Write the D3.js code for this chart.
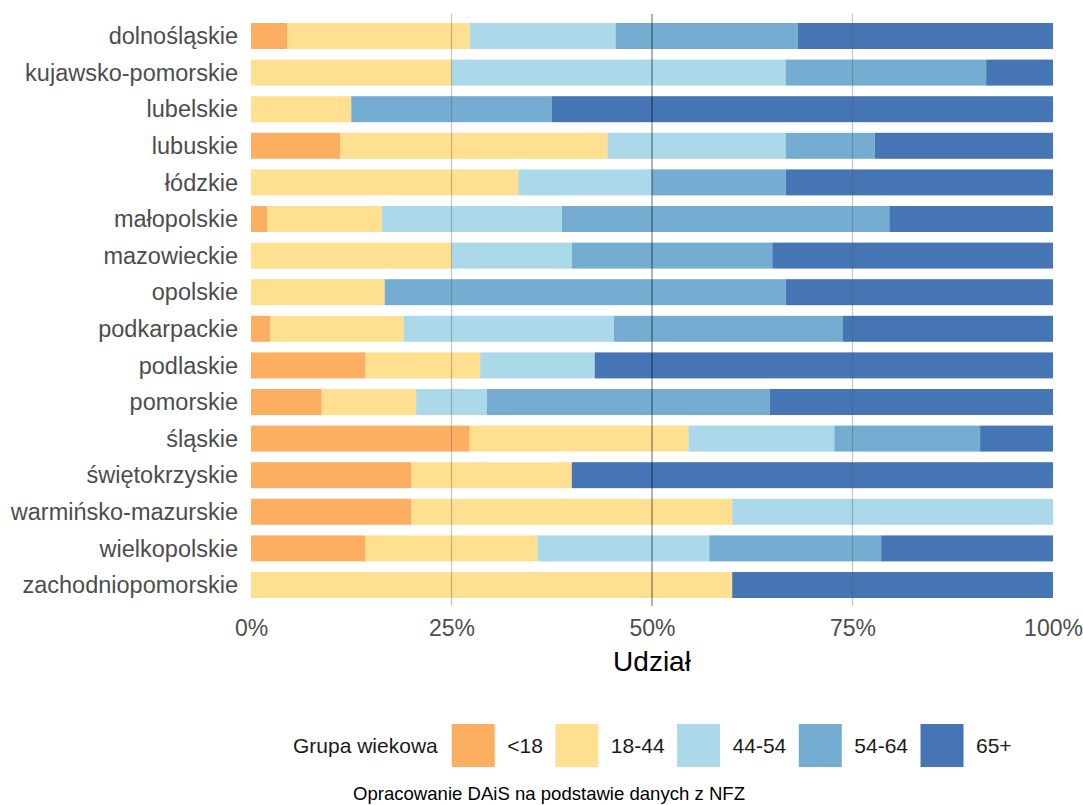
<!DOCTYPE html>
<html>
<head>
<meta charset="utf-8">
<script src="https://cdn.jsdelivr.net/npm/d3@7"></script>
<style>
  body { margin: 0; background: #fff; }
  text { font-family: "Liberation Sans", Arial, sans-serif; }
</style>
</head>
<body>
<svg class="chart"></svg>
<script>
// voivodeships, top to bottom
var regions = ["dolnośląskie", "kujawsko-pomorskie", "lubelskie", "lubuskie", "łódzkie",
  "małopolskie", "mazowieckie", "opolskie", "podkarpackie", "podlaskie", "pomorskie",
  "śląskie", "świętokrzyskie", "warmińsko-mazurskie", "wielkopolskie", "zachodniopomorskie"];

var groups = ["<18", "18-44", "44-54", "54-64", "65+"];
var groupColors = ["#FDAE61", "#FEE090", "#ABD9E9", "#74ADD1", "#4575B4"];

// counts per age group, same order as regions
var under18 = [1, 0, 0, 1, 0, 1, 0, 0, 1, 1, 3, 3, 1, 1, 2, 0];
var age18_44 = [5, 3, 1, 3, 2, 7, 5, 1, 7, 1, 4, 3, 1, 2, 3, 3];
var age44_54 = [4, 5, 0, 2, 1, 11, 3, 0, 11, 1, 3, 2, 0, 2, 3, 0];
var age54_64 = [5, 3, 2, 1, 1, 20, 5, 3, 12, 0, 12, 2, 0, 0, 3, 0];
var age65 = [7, 1, 5, 2, 2, 10, 7, 2, 11, 4, 12, 1, 3, 0, 3, 2];

var xTicks = [0, 0.25, 0.5, 0.75, 1];
var xTitle = "Udział";
var legendTitle = "Grupa wiekowa";
var caption = "Opracowanie DAiS na podstawie danych z NFZ";

var width = 1083;
var height = 805;

var svg = d3.select(".chart")
  .attr("width", width)
  .attr("height", height);

// build rows for the stack
var series = [under18, age18_44, age44_54, age54_64, age65];
var rows = regions.map(function(r, i) {
  var row = { region: r };
  groups.forEach(function(g, j) { row[g] = series[j][i]; });
  return row;
});

var stacked = d3.stack()
  .keys(groups)
  .offset(d3.stackOffsetExpand)(rows);

var x = d3.scaleLinear().domain([0, 1]).range([251, 1053]);

var y = d3.scaleBand()
  .domain(regions)
  .range([17.7, 603.3])
  .paddingInner(0.29)
  .paddingOuter(0.145);

var color = d3.scaleOrdinal().domain(groups).range(groupColors);

// bars
svg.append("g")
  .selectAll("g")
  .data(stacked)
  .enter()
  .append("g")
  .attr("fill", function(d) { return color(d.key); })
  .selectAll("rect")
  .data(function(d) { return d; })
  .enter()
  .append("rect")
  .attr("x", function(d) { return x(d[0]); })
  .attr("width", function(d) { return x(d[1]) - x(d[0]); })
  .attr("y", function(d) { return y(d.data.region); })
  .attr("height", y.bandwidth());

// grid lines drawn over the bars
svg.append("g")
  .selectAll("line")
  .data([0.25, 0.5, 0.75])
  .enter()
  .append("line")
  .attr("x1", function(d) { return x(d); })
  .attr("x2", function(d) { return x(d); })
  .attr("y1", 14)
  .attr("y2", 606)
  .attr("stroke", function(d) { return d === 0.5 ? "#000" : "#555"; })
  .attr("stroke-opacity", function(d) { return d === 0.5 ? 0.5 : 0.35; })
  .attr("stroke-width", 1.2);

// y axis labels
var yAxis = d3.axisLeft(y).tickSize(0).tickPadding(13);
var gy = svg.append("g")
  .attr("transform", "translate(" + x(0) + ",0)")
  .call(yAxis);
gy.select(".domain").remove();
gy.selectAll("text")
  .attr("font-family", "Liberation Sans, Arial, sans-serif")
  .attr("font-size", "23.5px")
  .attr("fill", "#4D4D4D")
  .attr("dy", "0.35em");

// x axis labels
var xAxis = d3.axisBottom(x).tickValues(xTicks).tickFormat(d3.format(".0%")).tickSize(0).tickPadding(0);
var gx = svg.append("g")
  .attr("transform", "translate(0,619)")
  .call(xAxis);
gx.select(".domain").remove();
gx.selectAll("text")
  .attr("font-family", "Liberation Sans, Arial, sans-serif")
  .attr("font-size", "23px")
  .attr("fill", "#4D4D4D")
  .attr("y", 17)
  .attr("dy", 0);

svg.append("text")
  .attr("x", x(0.5))
  .attr("y", 671)
  .attr("text-anchor", "middle")
  .attr("font-size", "28px")
  .attr("fill", "#000")
  .text(xTitle);

// legend
var legend = svg.append("g");
var legendY = 724;
var keySize = 43;

var title = legend.append("text")
  .attr("x", 293)
  .attr("y", legendY + keySize / 2)
  .attr("dy", "0.35em")
  .attr("font-size", "21px")
  .attr("fill", "#1a1a1a")
  .text(legendTitle);

var cursor = 293 + title.node().getComputedTextLength() + 14;
groups.forEach(function(g) {
  legend.append("rect")
    .attr("x", cursor)
    .attr("y", legendY)
    .attr("width", keySize)
    .attr("height", keySize)
    .attr("fill", color(g));
  var label = legend.append("text")
    .attr("x", cursor + keySize + 12.5)
    .attr("y", legendY + keySize / 2)
    .attr("dy", "0.35em")
    .attr("font-size", "21px")
    .attr("fill", "#1a1a1a")
    .text(g);
  cursor = cursor + keySize + 12.5 + label.node().getComputedTextLength() + 12.5;
});

// caption
svg.append("text")
  .attr("x", 353)
  .attr("y", 800)
  .attr("font-family", "DejaVu Sans Condensed, DejaVu Sans, sans-serif")
  .attr("font-size", "19px")
  .attr("fill", "#000")
  .attr("textLength", 392)
  .attr("lengthAdjust", "spacingAndGlyphs")
  .text(caption);
</script>
</body>
</html>
